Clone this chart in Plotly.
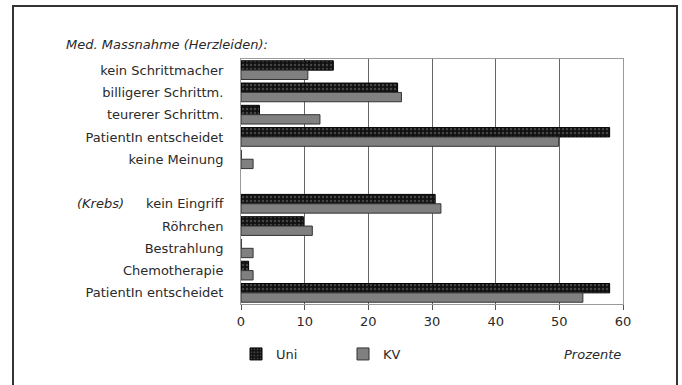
import plotly.graph_objects as go

labels = ["kein Schrittmacher", "billigerer Schrittm.", "teurerer Schrittm.",
          "PatientIn entscheidet", "keine Meinung", "",
          "kein Eingriff", "Röhrchen", "Bestrahlung", "Chemotherapie",
          "PatientIn entscheidet"]
rows = list(range(len(labels)))
uni = [14.5, 24.6, 2.9, 57.9, 0, None, 30.5, 9.8, 0, 1.2, 57.9]
kv = [10.5, 25.2, 12.4, 49.9, 1.9, None, 31.4, 11.2, 1.9, 1.9, 53.7]
x_ticks = [0, 10, 20, 30, 40, 50, 60]

FONT = "DejaVu Sans"
TXT = "#2a2a2a"
FS = 13

L, R, T, B = 241, 59, 59, 81
W, H = 682, 385
pw, ph = W - L - R, H - T - B


def px_x(p):
    return (p - L) / pw


def px_y(p):
    return (H - B - p) / ph


fig = go.Figure()
fig.add_trace(go.Bar(
    name="Uni", y=rows, x=uni, orientation="h",
    marker=dict(color="#111111", line=dict(color="#000000", width=1),
                pattern=dict(shape=".", fgcolor="#777777", bgcolor="#111111",
                             size=4, solidity=0.3)),
))
fig.add_trace(go.Bar(
    name="KV", y=rows, x=kv, orientation="h",
    marker=dict(color="#808080", line=dict(color="#333333", width=1)),
))

fig.update_layout(
    width=W, height=H,
    margin=dict(l=L, r=R, t=T, b=B, autoexpand=False),
    paper_bgcolor="white", plot_bgcolor="white",
    barmode="group", bargap=0.16, bargroupgap=0.0,
    font=dict(family=FONT, size=FS, color=TXT),
    showlegend=True,
    legend=dict(orientation="h", x=px_x(236), xanchor="left",
                y=px_y(354), yanchor="middle", entrywidth=62,
                font=dict(family=FONT, size=FS, color=TXT),
                bgcolor="rgba(0,0,0,0)"),
    xaxis=dict(range=[0, 60], tickvals=x_ticks, ticktext=[str(v) for v in x_ticks],
               showgrid=True, gridcolor="#666666", gridwidth=1,
               showline=True, linecolor="#9a9a9a", linewidth=1, mirror=True,
               ticks="outside", ticklen=5, tickcolor="#555555",
               zeroline=False, fixedrange=True),
    yaxis=dict(range=[10.5, -0.5], tickvals=rows, ticktext=labels,
               showgrid=False, showline=True, linecolor="#9a9a9a", linewidth=1,
               mirror=True, ticks="", ticklabelstandoff=14,
               zeroline=False, fixedrange=True),
)

fig.add_annotation(xref="paper", yref="paper", x=px_x(64), y=px_y(45),
                   xanchor="left", yanchor="middle", showarrow=False,
                   text="<i>Med. Massnahme (Herzleiden):</i>",
                   font=dict(family=FONT, size=FS, color=TXT))
fig.add_annotation(xref="paper", yref="y", x=px_x(75), y=6,
                   xanchor="left", yanchor="middle", showarrow=False,
                   text="<i>(Krebs)</i>",
                   font=dict(family=FONT, size=FS, color=TXT))
fig.add_annotation(xref="paper", yref="paper", x=1.0, y=px_y(354),
                   xanchor="right", yanchor="middle", showarrow=False,
                   text="<i>Prozente</i>",
                   font=dict(family=FONT, size=FS, color=TXT))

# outer frame
fig.add_shape(type="rect", xref="paper", yref="paper",
              x0=px_x(13), x1=px_x(677), y0=px_y(390), y1=px_y(6),
              line=dict(color="#333333", width=2), fillcolor="rgba(0,0,0,0)",
              layer="below")

fig.write_html("out.html",
               config={"displayModeBar": False, "staticPlot": True},
               post_script="document.body.style.margin='0';"
                           "document.body.style.overflow='hidden';")
